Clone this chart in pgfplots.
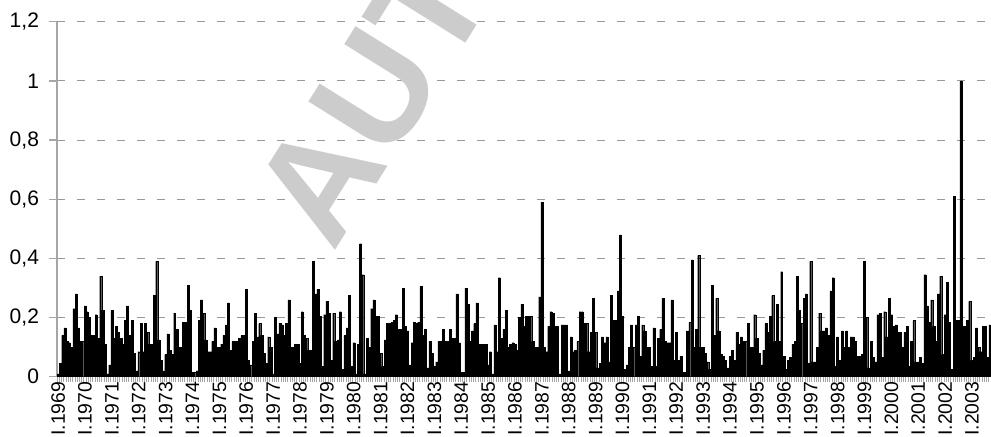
\documentclass[border=0pt]{standalone}
\usepackage{fontspec}
\setmainfont{Liberation Sans}
\usepackage{pgfplots}
\pgfplotsset{compat=1.18}
\usepackage{pgfplotstable}

% monthly values, one line per year (Jan..Dec), Jan 1969 .. Sep 2003
\pgfplotstableread[row sep=\\, header=false]{
0.01\\0.045\\0.14\\0.165\\0.12\\0.115\\0.10\\0.23\\0.28\\0.165\\0.12\\0.12\\
0.24\\0.22\\0.20\\0.14\\0.14\\0.21\\0.13\\0.34\\0.225\\0.11\\0.01\\0.04\\
0.225\\0.13\\0.17\\0.15\\0.13\\0.11\\0.19\\0.24\\0.14\\0.19\\0.08\\0.02\\
0.085\\0.18\\0.085\\0.18\\0.15\\0.11\\0.11\\0.275\\0.39\\0.125\\0.055\\0.02\\
0.075\\0.145\\0.09\\0.075\\0.215\\0.16\\0.10\\0.10\\0.185\\0.185\\0.31\\0.225\\
0.015\\0.015\\0.02\\0.19\\0.26\\0.215\\0.125\\0.085\\0.085\\0.12\\0.165\\0.10\\
0.10\\0.11\\0.14\\0.175\\0.25\\0.09\\0.12\\0.12\\0.12\\0.13\\0.14\\0.14\\
0.295\\0.055\\0.04\\0.12\\0.215\\0.135\\0.18\\0.14\\0.08\\0.045\\0.135\\0.10\\
0.01\\0.20\\0.145\\0.18\\0.175\\0.14\\0.18\\0.26\\0.10\\0.10\\0.11\\0.11\\
0.045\\0.22\\0.14\\0.13\\0.09\\0.09\\0.39\\0.28\\0.295\\0.205\\0.035\\0.21\\
0.255\\0.215\\0.055\\0.215\\0.12\\0.125\\0.22\\0.025\\0.14\\0.165\\0.275\\0.035\\
0.115\\0.01\\0.11\\0.45\\0.345\\0.01\\0.13\\0.10\\0.23\\0.26\\0.205\\0.205\\
0.08\\0.035\\0.125\\0.18\\0.18\\0.185\\0.19\\0.21\\0.16\\0.16\\0.30\\0.17\\
0.155\\0.04\\0.115\\0.185\\0.18\\0.185\\0.305\\0.14\\0.16\\0.03\\0.12\\0.08\\
0.035\\0.05\\0.12\\0.12\\0.16\\0.12\\0.12\\0.16\\0.13\\0.13\\0.28\\0.115\\
0.015\\0.015\\0.30\\0.245\\0.12\\0.155\\0.18\\0.25\\0.11\\0.11\\0.11\\0.11\\
0.04\\0.085\\0.01\\0.175\\0.085\\0.335\\0.13\\0.16\\0.225\\0.10\\0.11\\0.115\\
0.11\\0.09\\0.20\\0.245\\0.17\\0.205\\0.205\\0.205\\0.12\\0.10\\0.10\\0.27\\
0.59\\0.10\\0.085\\0.17\\0.22\\0.215\\0.17\\0.17\\0.01\\0.175\\0.175\\0.175\\
0.02\\0.135\\0.085\\0.09\\0.12\\0.22\\0.22\\0.18\\0.18\\0.085\\0.15\\0.265\\
0.15\\0.03\\0.045\\0.135\\0.115\\0.135\\0.05\\0.275\\0.19\\0.19\\0.29\\0.48\\
0.205\\0.025\\0.04\\0.10\\0.175\\0.10\\0.175\\0.205\\0.07\\0.175\\0.155\\0.10\\
0.10\\0.035\\0.165\\0.035\\0.13\\0.16\\0.265\\0.12\\0.115\\0.115\\0.26\\0.055\\
0.15\\0.055\\0.07\\0.015\\0.015\\0.155\\0.185\\0.395\\0.10\\0.16\\0.41\\0.10\\
0.10\\0.08\\0.05\\0.025\\0.31\\0.14\\0.265\\0.155\\0.075\\0.07\\0.055\\0.03\\
0.07\\0.09\\0.055\\0.15\\0.11\\0.135\\0.12\\0.12\\0.18\\0.10\\0.10\\0.21\\
0.13\\0.08\\0.04\\0.09\\0.18\\0.15\\0.205\\0.275\\0.12\\0.245\\0.12\\0.355\\
0.07\\0.025\\0.055\\0.065\\0.11\\0.12\\0.34\\0.225\\0.18\\0.265\\0.28\\0.045\\
0.39\\0.05\\0.05\\0.10\\0.215\\0.155\\0.155\\0.165\\0.14\\0.29\\0.335\\0.035\\
0.135\\0.055\\0.155\\0.10\\0.155\\0.10\\0.135\\0.135\\0.12\\0.07\\0.07\\0.075\\
0.39\\0.20\\0.03\\0.12\\0.065\\0.05\\0.21\\0.215\\0.065\\0.22\\0.135\\0.265\\
0.21\\0.17\\0.175\\0.15\\0.15\\0.10\\0.15\\0.17\\0.035\\0.12\\0.19\\0.05\\
0.05\\0.065\\0.045\\0.345\\0.24\\0.185\\0.26\\0.17\\0.12\\0.28\\0.34\\0.075\\
0.21\\0.32\\0.185\\0.025\\0.61\\0.19\\0.19\\1.0\\0.17\\0.17\\0.19\\0.255\\
0.055\\0.065\\0.165\\0.10\\0.085\\0.17\\0.17\\0.065\\0.175\\
}\monthly

\begin{document}
\begin{tikzpicture}
\begin{axis}[
  name=ax,
  width=467pt, height=177.5pt, scale only axis,
  xmin=-0.5, xmax=416.5, ymin=0, ymax=1.2,
  ybar, bar width=0.88,
  axis lines*=left,
  axis line style={draw=gray!70, line width=0.6pt},
  tick align=outside,
  major tick length=4pt,
  minor tick length=2.5pt,
  ytick={0,0.2,0.4,0.6,0.8,1,1.2},
  major y tick style={draw=gray!70, line width=0.6pt},
  xtick={0,12,...,408},
  xticklabels={I.1969,I.1970,I.1971,I.1972,I.1973,I.1974,I.1975,I.1976,I.1977,I.1978,I.1979,I.1980,I.1981,I.1982,I.1983,I.1984,I.1985,I.1986,I.1987,I.1988,I.1989,I.1990,I.1991,I.1992,I.1993,I.1994,I.1995,I.1996,I.1997,I.1998,I.1999,I.2000,I.2001,I.2002,I.2003},
  major x tick style={draw=none},
  minor xtick={-0.5,0.5,...,416.5},
  minor x tick style={draw=gray!70, line width=0.4pt},
  ymajorgrids,
  major grid style={draw=gray!80, dash pattern=on 4pt off 6pt, line width=0.5pt},
  tick label style={font=\fontsize{10.5}{11}\selectfont, text=black},
  /pgf/number format/assume math mode=true,
  yticklabel style={xshift=-1.5pt, /pgf/number format/.cd, use comma, fixed, precision=1},
  xticklabel shift=-2.2pt,
  xticklabel style={rotate=90, anchor=east, inner sep=0.5pt, font=\fontsize{9.7}{10}\selectfont},
]
\addplot[ybar, fill=black, draw=black, line width=0.1pt] table[x expr=\coordindex, y index=0] {\monthly};
\coordinate (wm) at (axis cs:123.0,0.415);
\coordinate (bbl) at (axis cs:-25.95,-0.2027);
\coordinate (btr) at (axis cs:416.5,1.2736);
\end{axis}
\begin{pgfinterruptboundingbox}
\begin{scope}
\clip (bbl) rectangle (btr);
\node[rotate=58, anchor=base west, inner sep=0pt, text=black!20, font=\fontsize{74}{74}\selectfont\bfseries] at (wm) {AUTHOR};
\end{scope}
\end{pgfinterruptboundingbox}
\pgfresetboundingbox
\useasboundingbox (bbl) rectangle (btr);
\end{tikzpicture}
\end{document}
